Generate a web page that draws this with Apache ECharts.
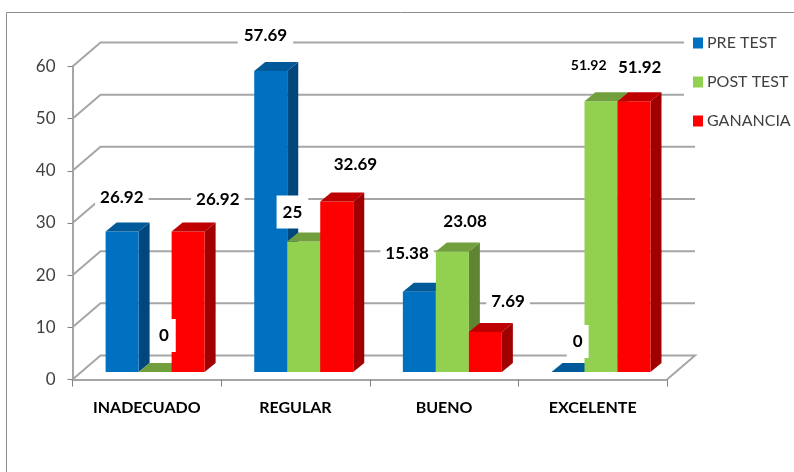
<!DOCTYPE html>
<html><head><meta charset="utf-8">
<style>html,body{margin:0;padding:0;background:#fff}#c{width:794px;height:472px}</style>
<script src="https://cdn.jsdelivr.net/npm/echarts@6/dist/echarts.min.js"></script>
</head><body><div id="c"></div>
<script>
const categories = ['INADECUADO','REGULAR','BUENO','EXCELENTE'];
const preTest  = [26.92, 57.69, 15.38, 0];
const postTest = [0, 25, 23.08, 51.92];
const ganancia = [26.92, 32.69, 7.69, 51.92];
const yTicks = [0,10,20,30,40,50,60];

const seriesNames = ['PRE TEST','POST TEST','GANANCIA'];
const seriesValues = [preTest, postTest, ganancia];
const palette = [
  {front:'#0070C0', top:'#005A9A', side:'#00477D'},
  {front:'#92D050', top:'#719F3E', side:'#5F8532'},
  {front:'#FF0000', top:'#BF0000', side:'#A00000'}
];
// label displacement from the category/value anchor: [dx, dy] per series per category
const labelOffsets = [
  [[-25,-42],[-30,-43],[-37,-46],[-15,-38]],
  [[17,-44],[-3,-37],[21,-38],[-4,-43]],
  [[71,-40],[60,-44],[64,-38],[47,-41]]
];
const labelPadding = [
  [[2,5],[2,6],[2,5],[8,6]],
  [[8,7],[8,6],[2,5],[0,0]],
  [[2,5],[2,5],[2,5],[0,0]]
];

const BAR_W = 33, DEPTH_X = 11, DEPTH_Y = -9;      // bar geometry
const WALL_X = 28, WALL_Y = -24;                   // chart box depth
const FLOOR_X = 8.3, FLOOR_Y = -7.5;               // bars stand inside the floor

function barRenderer(si){
  return function(params, api){
    const base = api.coord([api.value(0), 0]);
    const top  = api.coord([api.value(0), api.value(1)]);
    const x0 = base[0] + FLOOR_X + (si - 1.5) * BAR_W;
    const x1 = x0 + BAR_W;
    const yb = base[1] + FLOOR_Y;
    const yt = top[1] + FLOOR_Y;
    const c = palette[si];
    const kids = [];
    if (yb - yt > 0.5) {
      kids.push({type:'polygon', shape:{points:[[x1,yt],[x1+DEPTH_X,yt+DEPTH_Y],[x1+DEPTH_X,yb+DEPTH_Y],[x1,yb]]}, style:{fill:c.side}});
      kids.push({type:'rect', shape:{x:x0,y:yt,width:BAR_W,height:yb-yt}, style:{fill:c.front}});
    }
    kids.push({type:'polygon', shape:{points:[[x0,yt],[x1,yt],[x1+DEPTH_X,yt+DEPTH_Y],[x0+DEPTH_X,yt+DEPTH_Y]]}, style:{fill:c.top}});
    return {type:'group', children:kids};
  };
}
function wallRenderer(params, api){
  const g = params.coordSys;
  const y = api.coord([0, api.value(0)])[1];
  const left = g.x, right = g.x + g.width;
  const pts = [[left,y],[left+WALL_X,y+WALL_Y],[right+WALL_X,y+WALL_Y]];
  if (api.value(0) === 0) pts.push([right,y]);
  return {type:'polyline', shape:{points:pts}, style:{stroke:'#A6A6A6', lineWidth:2, fill:null}};
}

const bars = seriesNames.map((name,si)=>({
  name, type:'custom', z:3, clip:false,
  renderItem:barRenderer(si),
  itemStyle:{color:palette[si].front},
  encode:{x:0,y:1},
  data:seriesValues[si].map((v,i)=>[i,v])
}));
const labels = seriesNames.map((name,si)=>({
  name:name+' label', type:'scatter', z:6, symbolSize:0, silent:true,
  itemStyle:{opacity:1},
  data:seriesValues[si].map((v,i)=>({
    value:[i,v],
    label:{
      show:true, position:'inside', opacity:1,
      offset:labelOffsets[si][i],
      padding:labelPadding[si][i],
      fontSize:(si===1&&i===3)?14:17,
      backgroundColor:(si===1&&i===3)?'transparent':'#fff',
      fontFamily:'Lato', fontWeight:'bold', color:'#000',
      formatter:p=>String(p.value[1])
    }
  }))
}));

const chart = echarts.init(document.getElementById('c'),null,{renderer:'canvas'});
chart.setOption({
  animation:false,
  backgroundColor:'#fff',
  graphic:[{type:'rect',silent:true,z:0,shape:{x:6.5,y:12.5,width:900,height:600},style:{fill:null,stroke:'#8C8C8C',lineWidth:1}}],
  legend:{
    data:seriesNames, orient:'vertical', left:684, top:35, padding:[0,20,6,9],
    backgroundColor:'#fff', icon:'rect', itemWidth:10, itemHeight:11, itemGap:23,
    textStyle:{fontFamily:'Lato',fontSize:16,color:'#404040',padding:[0,0,0,-1]},
    selectedMode:false, z:5
  },
  tooltip:{show:false},
  grid:{left:72.5,top:66.5,right:127,bottom:92.5},
  xAxis:{
    type:'category', data:categories, boundaryGap:true,
    axisLine:{lineStyle:{color:'#A6A6A6',width:2}},
    axisTick:{show:true,alignWithLabel:false,length:7,lineStyle:{color:'#808080',width:1}},
    axisLabel:{margin:20,fontFamily:'Lato',fontWeight:'bold',fontSize:16,color:'#000',interval:0},
    splitLine:{show:false}
  },
  yAxis:{
    type:'value', min:0, max:60, interval:10,
    axisLine:{show:true,lineStyle:{color:'#A6A6A6',width:2}},
    axisTick:{show:true,length:5,lineStyle:{color:'#808080',width:1}},
    axisLabel:{margin:17,fontFamily:'Lato',fontSize:17,color:'#404040'},
    splitLine:{show:false}
  },
  series:[
    {name:'walls',type:'custom',z:1,clip:false,silent:true,renderItem:wallRenderer,encode:{y:0},data:yTicks.map(v=>[v])},
    ...bars, ...labels
  ]
});
</script></body></html>
